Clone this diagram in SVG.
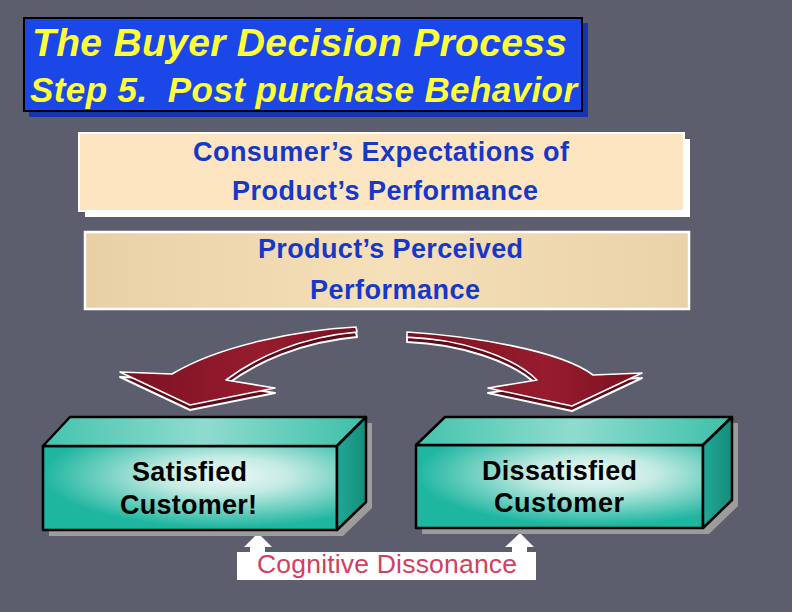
<svg xmlns="http://www.w3.org/2000/svg" width="792" height="612" viewBox="0 0 792 612">
<defs>
<style>
.t{font-family:"Liberation Sans",Arial,sans-serif;font-weight:bold}
.title{fill:#ffff3a;font-style:italic}
.blue{fill:#1638c8;font-size:27px}
.blk{fill:#000;font-size:27px}
.cog{fill:#d3405f;font-size:26.5px;font-weight:normal}
.side{fill:#5e0c1a;stroke:#fff;stroke-width:2;stroke-linejoin:round}
.face{fill:url(#red);stroke:#fff;stroke-width:1.6;stroke-linejoin:round}
.front{fill:url(#tealF);stroke:#000;stroke-width:2.5;stroke-linejoin:round}
.top{fill:url(#tealT);stroke:#000;stroke-width:2.5;stroke-linejoin:round}
.rside{fill:url(#tealS);stroke:#000;stroke-width:2.5;stroke-linejoin:round}
.shadow{fill:#9c9c9c}
</style>
<linearGradient id="red" x1="0" y1="0" x2="1" y2="0">
<stop offset="0" stop-color="#7c1122"/><stop offset="0.6" stop-color="#961c2e"/><stop offset="1" stop-color="#7a1020"/>
</linearGradient>
<radialGradient id="tealF" cx="0.62" cy="0.35" r="0.62">
<stop offset="0" stop-color="#eef9f7"/><stop offset="0.35" stop-color="#c4ebe3"/><stop offset="1" stop-color="#1fb6a0"/>
</radialGradient>
<linearGradient id="tealT" x1="0" y1="0" x2="1" y2="0">
<stop offset="0" stop-color="#45c3ad"/><stop offset="0.5" stop-color="#8fdccf"/><stop offset="1" stop-color="#3dbfa8"/>
</linearGradient>
<linearGradient id="tealS" x1="0" y1="0" x2="1" y2="0">
<stop offset="0" stop-color="#22a896"/><stop offset="1" stop-color="#158c7c"/>
</linearGradient>
<linearGradient id="tan" x1="0" y1="0" x2="1" y2="0">
<stop offset="0" stop-color="#e8d0a6"/><stop offset="0.5" stop-color="#f6e0ba"/><stop offset="1" stop-color="#e9d2a8"/>
</linearGradient>
</defs>
<rect width="792" height="612" fill="#5c5e6d"/>

<g id="title">
<rect x="29" y="23" width="559" height="94" fill="#1535ae"/>
<rect x="24" y="18" width="558" height="93" fill="#1b47e8" stroke="#000" stroke-width="2"/>
<text class="t title" x="32" y="56" font-size="39" textLength="535" lengthAdjust="spacing">The Buyer Decision Process</text>
<text class="t title" x="30" y="102" font-size="35" textLength="547" lengthAdjust="spacing" xml:space="preserve">Step 5.  Post purchase Behavior</text>
</g>

<g id="expectations">
<rect x="85" y="139" width="605" height="78" fill="#fff"/>
<rect x="79" y="133" width="605" height="78" fill="#fde5c1" stroke="#fff" stroke-width="2"/>
<text class="t blue" x="193" y="161" textLength="376" lengthAdjust="spacing">Consumer’s Expectations of</text>
<text class="t blue" x="232" y="200" textLength="306" lengthAdjust="spacing">Product’s Performance</text>
</g>

<g id="perceived">
<rect x="85" y="232" width="604" height="77" fill="url(#tan)" stroke="#fff" stroke-width="2.5"/>
<text class="t blue" x="258" y="258" textLength="265" lengthAdjust="spacing">Product’s Perceived</text>
<text class="t blue" x="310" y="299" textLength="170" lengthAdjust="spacing">Performance</text>
</g>

<g id="connectors">
<g id="arrow-left">
<path class="side" transform="translate(0,5)" d="M356,327 C300,330 220,345 172,374 L120,372 L190,405 L275,388 L226,380 C255,358 300,337 357,332 Z"/>
<path class="face" d="M356,327 C300,330 220,345 172,374 L120,372 L190,405 L275,388 L226,380 C255,358 300,337 357,332 Z"/>
</g>
<g id="arrow-right">
<path class="side" transform="translate(0,5)" d="M407,332 C470,336 560,350 593,375 L642,373 L572,406 L488,388 L537,380 C512,356 460,339 407,337 Z"/>
<path class="face" d="M407,332 C470,336 560,350 593,375 L642,373 L572,406 L488,388 L537,380 C512,356 460,339 407,337 Z"/>
</g>
<polygon id="up-left" points="258,533 272,547 265,547 265,552 250,552 250,547 244,547" fill="#fff"/>
<polygon id="up-right" points="520,533 534,547 527,547 527,552 512,552 512,547 505,547" fill="#fff"/>
</g>

<g id="satisfied">
<polygon class="shadow" points="49,452 76,423 372,423 372,508 343,536 49,536"/>
<polygon class="front" points="43,446 337,446 337,530 43,530"/>
<polygon class="top" points="43,446 70,417 366,417 337,446"/>
<polygon class="rside" points="337,446 366,417 366,502 337,530"/>
<text class="t blk" x="132" y="481" textLength="115" lengthAdjust="spacing">Satisfied</text>
<text class="t blk" x="120" y="514" textLength="137" lengthAdjust="spacing">Customer!</text>
</g>

<g id="dissatisfied">
<polygon class="shadow" points="422,451 451,423 738,423 738,506 709,534 422,534"/>
<polygon class="front" points="416,445 703,445 703,528 416,528"/>
<polygon class="top" points="416,445 445,417 732,417 703,445"/>
<polygon class="rside" points="703,445 732,417 732,500 703,528"/>
<text class="t blk" x="482" y="480" textLength="155" lengthAdjust="spacing">Dissatisfied</text>
<text class="t blk" x="494" y="512" textLength="130" lengthAdjust="spacing">Customer</text>
</g>

<g id="cognitive">
<rect x="237" y="552" width="299" height="28" fill="#fff"/>
<text class="t cog" x="257" y="573" textLength="260" lengthAdjust="spacing">Cognitive Dissonance</text>
</g>
</svg>
